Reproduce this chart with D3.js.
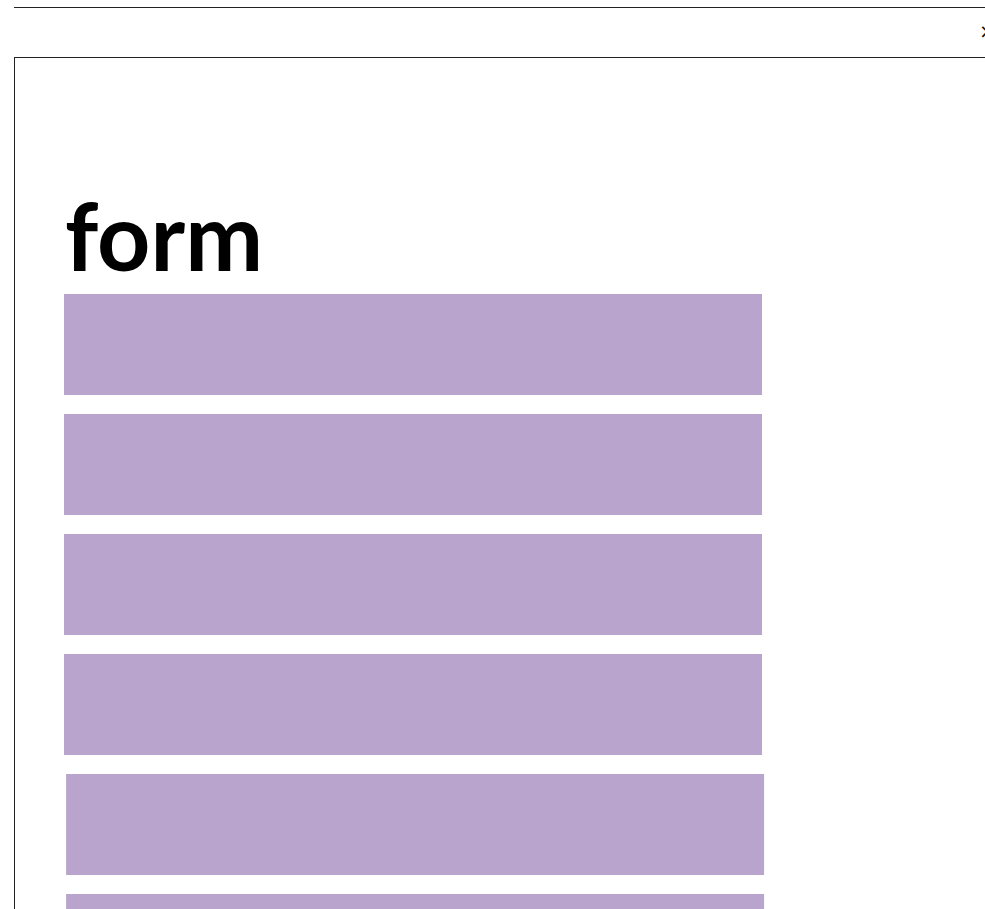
<!DOCTYPE html>
<html>
<head>
<meta charset="utf-8">
<script src="https://cdn.jsdelivr.net/npm/d3@7"></script>
<style>
  html, body { margin: 0; padding: 0; background: #fff; overflow: hidden; }
  svg { display: block; }
</style>
</head>
<body>
<div id="chart"></div>
<script>
// ---- data ----
const title = "form";
const categories = ["1", "2", "3", "4", "5", "6"];
const starts = [0, 0, 0, 0, 0.3, 0.3];
const values = [100, 100, 100, 100, 100, 100];
const closeGlyph = "×";

const W = 985, H = 909;
const barColor = "#b8a4cd";

const svg = d3.select("#chart").append("svg")
  .attr("width", W).attr("height", H);

// top rule
svg.append("line")
  .attr("x1", 14).attr("x2", W).attr("y1", 7.5).attr("y2", 7.5)
  .attr("stroke", "#222").attr("stroke-width", 1);

// close glyph (cut off at right edge, as in the reference)
svg.append("text")
  .attr("x", 979).attr("y", 38)
  .attr("font-family", "DejaVu Sans, sans-serif")
  .attr("font-size", 20)
  .attr("fill", "#111")
  .text(closeGlyph);

// frame box
svg.append("rect")
  .attr("x", 14.5).attr("y", 57.5)
  .attr("width", W + 20).attr("height", H + 20)
  .attr("fill", "none").attr("stroke", "#222").attr("stroke-width", 1);

// title
svg.append("text")
  .attr("x", 65).attr("y", 271)
  .attr("font-family", "Lato, sans-serif")
  .attr("font-weight", 700)
  .attr("font-size", 93)
  .attr("fill", "#000")
  .text(title);

const data = categories.map((c, i) => ({ c, s: starts[i], v: values[i] }));

const x = d3.scaleLinear().domain([0, 100]).range([64, 762]);
const y = d3.scaleBand().domain(categories)
  .range([294, 294 + 6 * 120 - 19])
  .paddingInner(19 / 120).paddingOuter(0);

svg.append("g").selectAll("rect")
  .data(data).join("rect")
  .attr("x", d => x(d.s))
  .attr("y", d => y(d.c))
  .attr("width", d => x(d.s + d.v) - x(d.s))
  .attr("height", y.bandwidth())
  .attr("fill", barColor);
</script>
</body>
</html>
